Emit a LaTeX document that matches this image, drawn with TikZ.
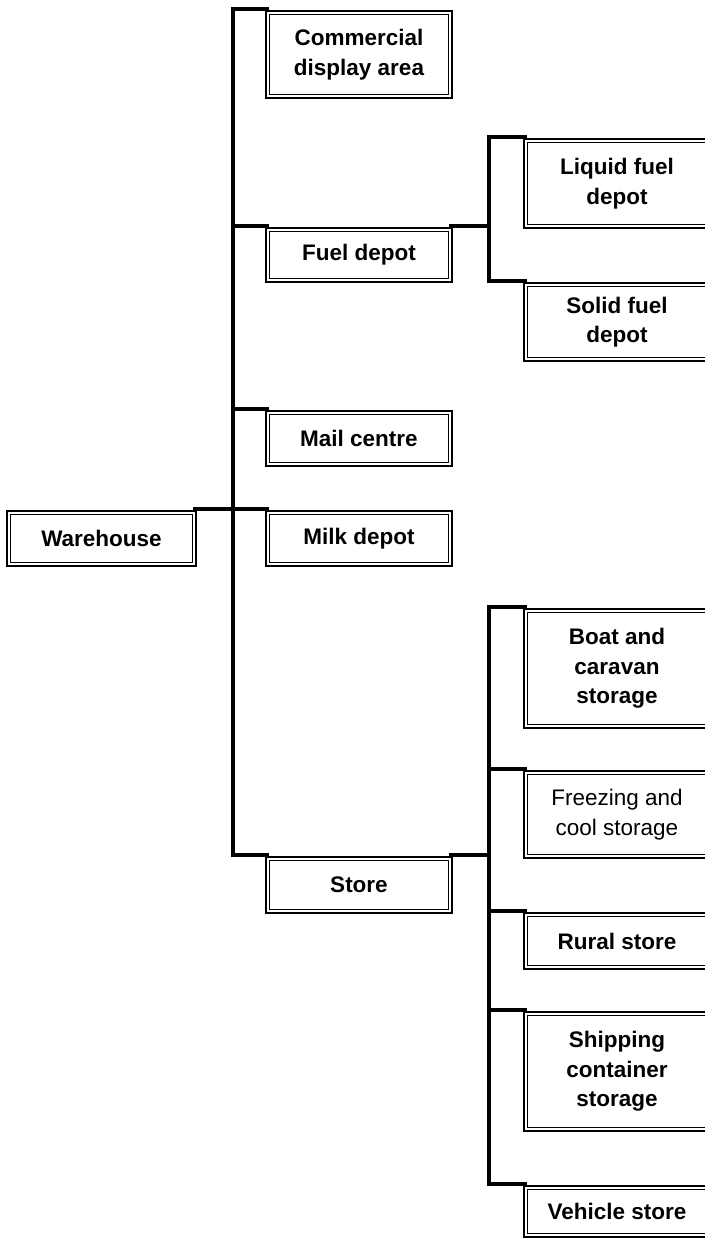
\documentclass[tikz,border=0pt]{standalone}
\usepackage{fontspec}
\setmainfont{Liberation Sans}
\begin{document}
\begin{tikzpicture}[x=1pt,y=-1pt,
  box/.style={draw, line width=1.8pt, double=white, double distance=1.7pt,
    inner sep=0pt, align=center, font=\fontsize{22.5}{29.5}\selectfont\bfseries,
    minimum width=182.5pt},
  plainbox/.style={box, font=\fontsize{22.5}{29.5}\selectfont},
  conn/.style={line width=4pt, line join=miter, line cap=rect}]
\useasboundingbox (0,0) rectangle (704,1241);
% column 1
\node[box, minimum width=185.5pt, minimum height=51.5pt] (wh) at (101.5,538.5) {Warehouse};
% column 2
\node[box, minimum height=83.5pt] (comm) at (359,54.5) {Commercial\\display area};
\node[box, minimum height=50.5pt] (fuel) at (359,255) {Fuel depot};
\node[box, minimum height=51.5pt] (mail) at (359,438.5) {Mail centre};
\node[box, minimum height=51.5pt] (milk) at (359,538.5) {Milk depot};
\node[box, minimum height=52.5pt] (store) at (359,885) {Store};
% column 3
\node[box, minimum height=85.5pt] (liquid) at (617,183.5) {Liquid fuel\\depot};
\node[box, minimum height=74.5pt] (solid) at (617,322) {Solid fuel\\depot};
\node[box, minimum height=115.5pt] (boat) at (617,668.5) {Boat and\\caravan\\storage};
\node[plainbox, minimum height=83.5pt] (freeze) at (617,814.5) {Freezing and\\cool storage};
\node[box, minimum height=52.5pt] (rural) at (617,941) {Rural store};
\node[box, minimum height=115.5pt] (ship) at (617,1071.5) {Shipping\\container\\storage};
\node[box, minimum height=47.5pt] (veh) at (617,1211.5) {Vehicle store};
% main trunk
\draw[conn] ([yshift=3pt]comm.north west) -| ([yshift=3pt,xshift=-33.5pt]store.north west) -- ([yshift=3pt]store.north west);
\draw[conn] ([yshift=3pt]fuel.north west) -- ([yshift=3pt,xshift=-33.5pt]fuel.north west);
\draw[conn] ([yshift=3pt]mail.north west) -- ([yshift=3pt,xshift=-33.5pt]mail.north west);
\draw[conn] ([yshift=3pt]wh.north east) -- ([yshift=3pt]milk.north west);
% fuel sub-trunk
\draw[conn] ([yshift=3pt]fuel.north east) -| ([yshift=3pt,xshift=-36pt]liquid.north west) -- ([yshift=3pt]liquid.north west);
\draw[conn] ([yshift=3pt,xshift=-36pt]liquid.north west) |- ([yshift=3pt]solid.north west);
% store sub-trunk
\draw[conn] ([yshift=3pt]boat.north west) -- ([yshift=3pt,xshift=-36pt]boat.north west) |- ([yshift=3pt]veh.north west);
\draw[conn] ([yshift=3pt]store.north east) -- ([yshift=3pt,xshift=-36pt]store.north east -| boat.north west);
\draw[conn] ([yshift=3pt]freeze.north west) -- ([yshift=3pt,xshift=-36pt]freeze.north west);
\draw[conn] ([yshift=3pt]rural.north west) -- ([yshift=3pt,xshift=-36pt]rural.north west);
\draw[conn] ([yshift=3pt]ship.north west) -- ([yshift=3pt,xshift=-36pt]ship.north west);
\end{tikzpicture}
\end{document}
